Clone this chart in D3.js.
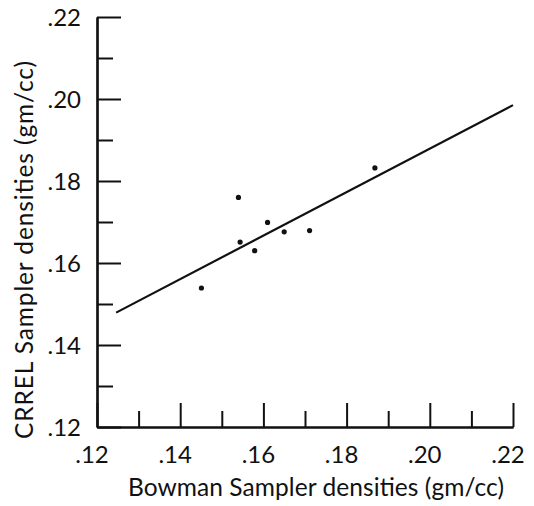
<!DOCTYPE html>
<html><head><meta charset="utf-8">
<script src="https://cdn.jsdelivr.net/npm/d3@7"></script>
<style>body{margin:0;background:#fff}svg{display:block}</style>
</head><body>
<svg id="c" width="534" height="506"></svg>
<script>
const bowman = [0.1540, 0.1868, 0.1610, 0.1650, 0.1711, 0.1544, 0.1579, 0.1451];
const crrel  = [0.1760, 0.1832, 0.1699, 0.1676, 0.1679, 0.1651, 0.1630, 0.1539];
const fitX = [0.1246, 0.2200];
const fitY = [0.1479, 0.1985];
const majorTicks = [0.12, 0.14, 0.16, 0.18, 0.20, 0.22];
const minorTicks = [0.13, 0.15, 0.17, 0.19, 0.21];
const tickLabels = [".12", ".14", ".16", ".18", ".20", ".22"];
const xTitle = "Bowman Sampler densities (gm/cc)";
const yTitle = "CRREL Sampler densities (gm/cc)";

const svg = d3.select("#c");
const x = d3.scaleLinear().domain([0.12, 0.22]).range([97, 513]);
const y = d3.scaleLinear().domain([0.12, 0.22]).range([427, 17]);
const font = "Lato, 'DejaVu Sans', sans-serif";
const ink = "#111";

function styleAxis(g){
  g.selectAll("path.domain").attr("stroke", ink).attr("stroke-width", 2.2);
  g.selectAll(".tick line").attr("stroke", ink).attr("stroke-width", 2);
  g.selectAll(".tick text").remove();
}
// x axis ticks pointing up (inside)
svg.append("g").attr("transform", `translate(0,${y(0.12)})`)
  .call(d3.axisTop(x).tickValues(majorTicks).tickSize(24).tickSizeOuter(0)).call(styleAxis);
svg.append("g").attr("transform", `translate(0,${y(0.12)})`)
  .call(d3.axisTop(x).tickValues(minorTicks).tickSize(16).tickSizeOuter(0)).call(styleAxis);
// y axis ticks pointing right (inside)
svg.append("g").attr("transform", `translate(${x(0.12)},0)`)
  .call(d3.axisRight(y).tickValues(majorTicks).tickSize(24).tickSizeOuter(0)).call(styleAxis);
svg.append("g").attr("transform", `translate(${x(0.12)},0)`)
  .call(d3.axisRight(y).tickValues(minorTicks).tickSize(16).tickSizeOuter(0)).call(styleAxis);

// tick labels
svg.append("g").selectAll("text").data(majorTicks).join("text")
  .attr("x", d => x(d) - 5).attr("y", y(0.12) + 36)
  .attr("text-anchor", "middle").attr("font-family", font).attr("font-size", 24).attr("fill", ink)
  .text((d, i) => tickLabels[i]);
svg.append("g").selectAll("text").data(majorTicks).join("text")
  .attr("x", 81).attr("y", d => y(d) + 9)
  .attr("text-anchor", "end").attr("font-family", font).attr("font-size", 24).attr("fill", ink)
  .text((d, i) => tickLabels[i]);

// titles
svg.append("text").attr("x", 316).attr("y", 496).attr("text-anchor", "middle")
  .attr("font-family", font).attr("font-size", 24.5).attr("fill", ink)
  .attr("textLength", 376).attr("lengthAdjust", "spacing").text(xTitle);
svg.append("text").attr("transform", "translate(33,250) rotate(-90)").attr("text-anchor", "middle")
  .attr("font-family", font).attr("font-size", 24.5).attr("fill", ink)
  .attr("textLength", 378).attr("lengthAdjust", "spacing").text(yTitle);

// fit line
svg.append("line")
  .attr("x1", x(fitX[0])).attr("y1", y(fitY[0])).attr("x2", x(fitX[1])).attr("y2", y(fitY[1]))
  .attr("stroke", ink).attr("stroke-width", 2.2);

// points
svg.append("g").selectAll("circle").data(bowman).join("circle")
  .attr("cx", d => x(d)).attr("cy", (d, i) => y(crrel[i])).attr("r", 2.6).attr("fill", ink);
</script>
</body></html>
